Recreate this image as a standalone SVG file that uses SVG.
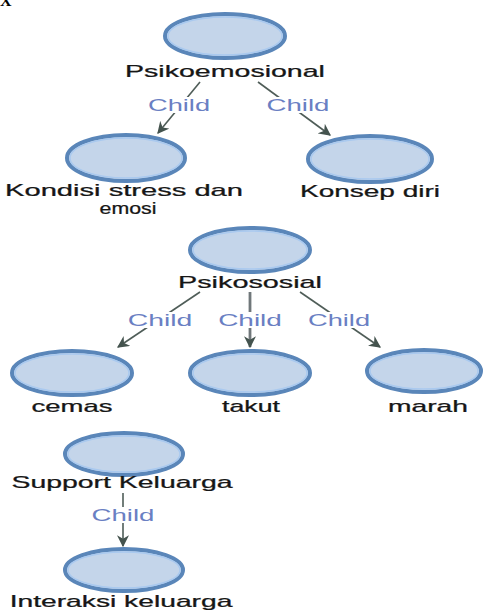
<svg xmlns="http://www.w3.org/2000/svg" width="484" height="610" viewBox="0 0 484 610">
<defs>
<style>
.node ellipse.o{fill:#c4d5ea;stroke:#5a86b9;stroke-width:4}
.node ellipse.i{fill:none;stroke:#a9c9ef;stroke-width:1.5}
.lbl{font-family:"Liberation Sans",Arial,sans-serif;font-size:16px;fill:#161616;text-anchor:middle;stroke:#161616;stroke-width:0.25}
.edge{stroke:#4f5d58;stroke-width:1.6;fill:none;marker-end:url(#ah)}
.edge.thick{stroke:#70777a;stroke-width:2.8}
.cl{font-family:"Liberation Sans",Arial,sans-serif;font-size:16px;fill:#6a7fc3;text-anchor:middle}
.bg{fill:#ffffff}
</style>
<marker id="ah" viewBox="0 0 10 10" refX="9" refY="5" markerWidth="12" markerHeight="12" markerUnits="userSpaceOnUse" orient="auto">
<path d="M0,0 L10,5 L0,10 L3,5 z" fill="#44534e"/>
</marker>
</defs>
<rect width="484" height="610" fill="#ffffff"/>
<text x="0" y="6" font-family="Liberation Serif,serif" font-weight="bold" font-size="16" fill="#000">X</text>

<g id="connectors">
<line class="edge" x1="200" y1="82" x2="158" y2="133"/>
<line class="edge" x1="258" y1="82" x2="330" y2="135"/>
<line class="edge" x1="200" y1="292" x2="118" y2="347"/>
<line class="edge thick" x1="250" y1="292" x2="250" y2="347"/>
<line class="edge" x1="300" y1="292" x2="380" y2="347"/>
<line class="edge" x1="123" y1="493" x2="123" y2="546"/>
<rect class="bg" x="148" y="97" width="62" height="16"/>
<text class="cl" transform="translate(179,111) scale(1.7,1)" textLength="36.5" lengthAdjust="spacingAndGlyphs">Child</text>
<rect class="bg" x="267" y="97" width="63" height="16"/>
<text class="cl" transform="translate(298,111) scale(1.7,1)" textLength="37" lengthAdjust="spacingAndGlyphs">Child</text>
<rect class="bg" x="128" y="312" width="65" height="16"/>
<text class="cl" transform="translate(160,326) scale(1.7,1)" textLength="38" lengthAdjust="spacingAndGlyphs">Child</text>
<rect class="bg" x="218" y="312" width="64" height="16"/>
<text class="cl" transform="translate(250,326) scale(1.7,1)" textLength="37.5" lengthAdjust="spacingAndGlyphs">Child</text>
<rect class="bg" x="308" y="312" width="62" height="16"/>
<text class="cl" transform="translate(339,326) scale(1.7,1)" textLength="36.5" lengthAdjust="spacingAndGlyphs">Child</text>
<rect class="bg" x="92" y="507" width="63" height="16"/>
<text class="cl" transform="translate(123,521) scale(1.7,1)" textLength="37" lengthAdjust="spacingAndGlyphs">Child</text>
</g>

<g id="n-psikoemosional" class="node">
<ellipse class="o" cx="225" cy="36" rx="60" ry="22"/>
<ellipse class="i" cx="225" cy="36" rx="57" ry="19"/>
<text class="lbl" transform="translate(225,77) scale(1.7,1)" textLength="117.6" lengthAdjust="spacingAndGlyphs">Psikoemosional</text>
</g>
<g id="n-kondisi" class="node">
<ellipse class="o" cx="126" cy="158" rx="59" ry="23"/>
<ellipse class="i" cx="126" cy="158" rx="56" ry="20"/>
<text class="lbl" transform="translate(124,196) scale(1.7,1)" textLength="140" lengthAdjust="spacingAndGlyphs">Kondisi stress dan</text>
<text class="lbl" transform="translate(128,214) scale(1.7,1)" textLength="33.5" lengthAdjust="spacingAndGlyphs">emosi</text>
</g>
<g id="n-konsep" class="node">
<ellipse class="o" cx="370" cy="159" rx="62" ry="23"/>
<ellipse class="i" cx="370" cy="159" rx="59" ry="20"/>
<text class="lbl" transform="translate(370,197) scale(1.7,1)" textLength="82.4" lengthAdjust="spacingAndGlyphs">Konsep diri</text>
</g>
<g id="n-psikososial" class="node">
<ellipse class="o" cx="250" cy="250" rx="60" ry="22"/>
<ellipse class="i" cx="250" cy="250" rx="57" ry="19"/>
<text class="lbl" transform="translate(250,288) scale(1.7,1)" textLength="84.7" lengthAdjust="spacingAndGlyphs">Psikososial</text>
</g>
<g id="n-cemas" class="node">
<ellipse class="o" cx="72" cy="373" rx="60" ry="22"/>
<ellipse class="i" cx="72" cy="373" rx="57" ry="19"/>
<text class="lbl" transform="translate(72,412) scale(1.7,1)" textLength="47.6" lengthAdjust="spacingAndGlyphs">cemas</text>
</g>
<g id="n-takut" class="node">
<ellipse class="o" cx="250" cy="373" rx="60" ry="22"/>
<ellipse class="i" cx="250" cy="373" rx="57" ry="19"/>
<text class="lbl" transform="translate(251,412) scale(1.7,1)" textLength="34" lengthAdjust="spacingAndGlyphs">takut</text>
</g>
<g id="n-marah" class="node">
<ellipse class="o" cx="424" cy="371" rx="57" ry="21"/>
<ellipse class="i" cx="424" cy="371" rx="54" ry="18"/>
<text class="lbl" transform="translate(428,412) scale(1.7,1)" textLength="47" lengthAdjust="spacingAndGlyphs">marah</text>
</g>
<g id="n-support" class="node">
<ellipse class="o" cx="124" cy="454" rx="59" ry="21"/>
<ellipse class="i" cx="124" cy="454" rx="56" ry="18"/>
<text class="lbl" transform="translate(122,488) scale(1.7,1)" textLength="130" lengthAdjust="spacingAndGlyphs">Support Keluarga</text>
</g>
<g id="n-interaksi" class="node">
<ellipse class="o" cx="124" cy="570" rx="59" ry="21"/>
<ellipse class="i" cx="124" cy="570" rx="56" ry="18"/>
<text class="lbl" transform="translate(121,607) scale(1.7,1)" textLength="131" lengthAdjust="spacingAndGlyphs">Interaksi keluarga</text>
</g>
</svg>
